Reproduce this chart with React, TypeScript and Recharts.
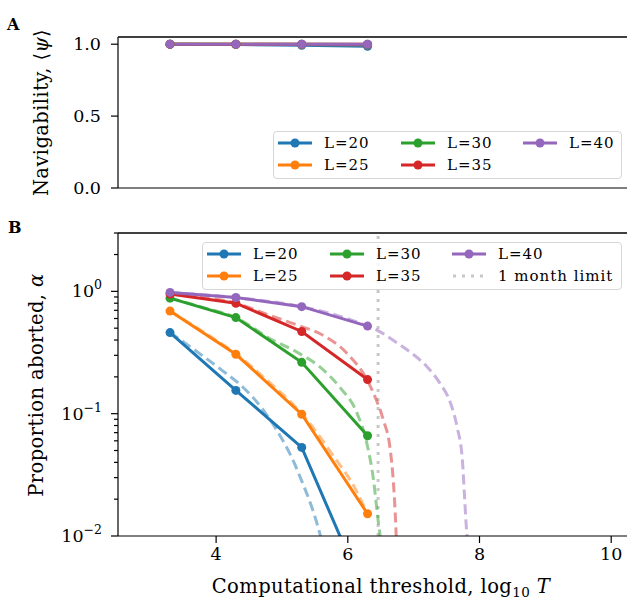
import React from 'react';
import { LineChart, Line, XAxis, YAxis, ReferenceLine } from 'recharts';

// thresholds (log10 T) at which the simulations were run
const thresholds = [3.3, 4.3, 5.3, 6.3];
const xTicks = [4, 6, 8, 10];
const xDomain = [2.51, 10.24];

const sizeLabels = ['L=20', 'L=25', 'L=30', 'L=35', 'L=40'];
const colors = ['#1f77b4', '#ff7f0e', '#2ca02c', '#d62728', '#9467bd'];

// panel A: navigability
const navL20 = [0.999, 0.998, 0.993, 0.985];
const navL25 = [1.0, 0.999, 0.998, 0.996];
const navL30 = [1.0, 1.0, 0.999, 0.998];
const navL35 = [1.0, 1.0, 1.0, 0.999];
const navL40 = [1.0, 1.0, 1.0, 1.0];
const navTicks = [0, 0.5, 1.0];
const navMax = 1.05;

// panel B: proportion aborted (measured)
const abortL20 = [0.46, 0.155, 0.053, 0.003];
const abortL25 = [0.69, 0.306, 0.099, 0.0152];
const abortL30 = [0.88, 0.61, 0.263, 0.066];
const abortL35 = [0.95, 0.8, 0.47, 0.19];
const abortL40 = [0.98, 0.89, 0.75, 0.52];
const abortMin = 0.01;
const abortMax = 3;

// panel B: fitted curves (dashed) as [log10 T, alpha]
const fitL20 = [[3.3, 0.462], [3.7, 0.324], [4.1, 0.224], [4.4, 0.166], [4.7, 0.11], [4.95, 0.069], [5.15, 0.0437], [5.3, 0.0282], [5.45, 0.0174], [5.55, 0.0117], [5.6, 0.0093], [5.65, 0.0071]];
const fitL25 = [[3.3, 0.69], [3.8, 0.468], [4.3, 0.309], [4.8, 0.182], [5.3, 0.1], [5.8, 0.0437], [6.1, 0.0251], [6.3, 0.0151]];
const fitL30 = [[3.3, 0.88], [3.8, 0.74], [4.3, 0.61], [4.82, 0.41], [5.23, 0.318], [5.58, 0.24], [5.88, 0.164], [6.14, 0.101], [6.29, 0.057], [6.39, 0.0288], [6.46, 0.0135], [6.5, 0.009], [6.52, 0.007]];
const fitL35 = [[3.3, 0.95], [4.3, 0.8], [4.8, 0.64], [5.32, 0.51], [5.58, 0.45], [5.99, 0.31], [6.29, 0.19], [6.39, 0.147], [6.54, 0.0885], [6.64, 0.053], [6.69, 0.0286], [6.72, 0.0154], [6.735, 0.01], [6.75, 0.006]];
const fitL40 = [[3.3, 0.98], [4.3, 0.89], [5.3, 0.75], [5.8, 0.645], [6.3, 0.52], [6.45, 0.48], [6.69, 0.398], [6.95, 0.318], [7.21, 0.24], [7.4, 0.177], [7.56, 0.122], [7.66, 0.0776], [7.74, 0.0417], [7.77, 0.0224], [7.8, 0.0118], [7.81, 0.01], [7.82, 0.007]];

const monthLimit = 6.46;
const logTicks = [0.01, 0.02, 0.03, 0.04, 0.05, 0.06, 0.07, 0.08, 0.09, 0.1, 0.2, 0.3, 0.4, 0.5, 0.6, 0.7, 0.8, 0.9, 1, 2, 3];
const majorTicks = [0.01, 0.1, 1];

const navSeries = [navL20, navL25, navL30, navL35, navL40];
const abortSeries = [abortL20, abortL25, abortL30, abortL35, abortL40];
const fitSeries = [fitL20, fitL25, fitL30, fitL35, fitL40];

const toPoints = (ys: number[]) => thresholds.map((x, i) => ({ x, y: ys[i] }));
const fitPoints = (pts: number[][]) => pts.map(([x, y]) => ({ x, y }));

const FONT = "'DejaVu Serif', serif";
const tickStyle = { fontSize: 17.5, fill: '#000', fontFamily: FONT };

const LogTick = (props: any) => {
  const { x, y, payload } = props;
  const v = payload.value;
  const major = majorTicks.some((m) => Math.abs(m - v) < 1e-9);
  const exp = Math.round(Math.log10(v));
  return (
    <g>
      <line x1={x} x2={x - (major ? 7 : 4)} y1={y} y2={y} stroke="#000" strokeWidth={1.2} />
      {major && (
        <text x={x - 16} y={y} dy="0.35em" textAnchor="end" fontFamily={FONT} fontSize={17.5} fill="#000">
          10
          <tspan dy={-8} fontSize={12.5}>{exp === 0 ? '0' : '\u2212' + Math.abs(exp)}</tspan>
        </text>
      )}
    </g>
  );
};

const LegendBox = ({ left, top, width, withLimit }: any) => {
  const cols = [5, 128, 250];
  const rows = [12, 34];
  const entries = sizeLabels.map((label, i) => ({ label, color: colors[i], dotted: false }));
  if (withLimit) entries.push({ label: '1 month limit', color: '#c8c8c8', dotted: true });
  // entries fill the columns top to bottom
  return (
    <div
      style={{
        position: 'absolute',
        left,
        top,
        width,
        height: 48,
        border: '1px solid #d6d6d6',
        borderRadius: 4,
        background: 'rgba(255,255,255,0.8)',
        boxSizing: 'border-box',
      }}
    >
      <svg width={width} height={48} style={{ position: 'absolute', left: -1, top: -1 }}>
        {entries.map((e, i) => {
          const cx = cols[Math.floor(i / 2)];
          const cy = rows[i % 2];
          return (
            <g key={e.label}>
              {e.dotted ? (
                <line x1={cx + 1} x2={cx + 35} y1={cy} y2={cy} stroke={e.color} strokeWidth={3} strokeDasharray="3 6" />
              ) : (
                <>
                  <line x1={cx} x2={cx + 34} y1={cy} y2={cy} stroke={e.color} strokeWidth={3} />
                  <circle cx={cx + 17} cy={cy} r={4.5} fill={e.color} />
                </>
              )}
              <text x={cx + 46} y={cy} dy="0.36em" fontFamily={FONT} fontSize={15} letterSpacing={1} fill="#000">
                {e.label}
              </text>
            </g>
          );
        })}
      </svg>
    </div>
  );
};

const spine = { stroke: '#000', strokeWidth: 1.5 };

export default function App() {
  return (
    <div style={{ position: 'absolute', left: 0, top: 0, width: 627, height: 603, background: '#fff', overflow: 'hidden' }}>
      {/* Panel A */}
      <div style={{ position: 'absolute', left: 0, top: 0 }}>
        <LineChart width={627} height={200} margin={{ top: 37, right: 0, bottom: 0, left: 0 }}>
          <XAxis
            type="number"
            dataKey="x"
            domain={xDomain}
            allowDataOverflow
            ticks={xTicks}
            tick={false}
            tickSize={7}
            height={12}
            stroke="#000"
            strokeWidth={1.2}
          />
          <YAxis
            type="number"
            domain={[0, navMax]}
            allowDataOverflow
            ticks={navTicks}
            tickFormatter={(v: number) => v.toFixed(1)}
            tick={tickStyle}
            tickSize={7}
            tickMargin={10}
            width={118}
            stroke="#000"
            strokeWidth={1.2}
          />
          <ReferenceLine y={navMax} {...spine} />
          {navSeries.map((ys, i) => (
            <Line
              key={sizeLabels[i]}
              data={toPoints(ys)}
              dataKey="y"
              type="linear"
              stroke={colors[i]}
              strokeWidth={3}
              dot={{ r: 4.5, fill: colors[i], strokeWidth: 0 }}
              activeDot={false}
              isAnimationActive={false}
            />
          ))}
        </LineChart>
      </div>

      {/* Panel B */}
      <div style={{ position: 'absolute', left: 0, top: 200 }}>
        <LineChart width={627} height={403} margin={{ top: 33, right: 0, bottom: 0, left: 0 }}>
          <XAxis
            type="number"
            dataKey="x"
            domain={xDomain}
            allowDataOverflow
            ticks={xTicks}
            tick={tickStyle}
            tickSize={7}
            tickMargin={5}
            height={67}
            stroke="#000"
            strokeWidth={1.2}
          />
          <YAxis
            type="number"
            scale="log"
            domain={[abortMin, abortMax]}
            allowDataOverflow
            ticks={logTicks}
            interval={0}
            tick={<LogTick />}
            tickLine={false}
            tickSize={0}
            tickMargin={0}
            width={118}
            stroke="#000"
            strokeWidth={1.2}
          />
          <ReferenceLine y={abortMax} {...spine} />
          <ReferenceLine x={monthLimit} stroke="#c8c8c8" strokeWidth={3} strokeDasharray="3 6" />
          {abortSeries.map((ys, i) => [
            <Line
              key={'m' + i}
              data={toPoints(ys)}
              dataKey="y"
              type="linear"
              stroke={colors[i]}
              strokeWidth={3}
              dot={{ r: 4.5, fill: colors[i], strokeWidth: 0 }}
              activeDot={false}
              isAnimationActive={false}
            />,
            <Line
              key={'f' + i}
              data={fitPoints(fitSeries[i])}
              dataKey="y"
              type="monotone"
              stroke={colors[i]}
              strokeOpacity={0.5}
              strokeWidth={3}
              strokeDasharray="10 5"
              dot={false}
              activeDot={false}
              isAnimationActive={false}
            />,
          ])}
        </LineChart>
      </div>

      <LegendBox left={273} top={131} width={349} />
      <LegendBox left={202} top={242} width={420} withLimit />

      {/* panel letters and axis titles */}
      <svg width={627} height={603} style={{ position: 'absolute', left: 0, top: 0, pointerEvents: 'none' }}>
        <text x={7} y={30} fontFamily={FONT} fontWeight="bold" fontSize={16}>A</text>
        <text x={8} y={233} fontFamily={FONT} fontWeight="bold" fontSize={16}>B</text>
        <text transform="translate(48,112.5) rotate(-90)" textAnchor="middle" fontFamily={FONT} fontSize={19.5} letterSpacing={0.4}>
          Navigability, ⟨<tspan fontStyle="italic">ψ</tspan>⟩
        </text>
        <text transform="translate(43,385) rotate(-90)" textAnchor="middle" fontFamily={FONT} fontSize={19.5} letterSpacing={0.4}>
          Proportion aborted, <tspan fontStyle="italic">α</tspan>
        </text>
        <text x={381} y={593} textAnchor="middle" fontFamily={FONT} fontSize={19.5} letterSpacing={0.4}>
          Computational threshold, log<tspan dy={4} fontSize={13.5}>10</tspan>
          <tspan dy={-4} fontStyle="italic"> T</tspan>
        </text>
      </svg>
    </div>
  );
}
